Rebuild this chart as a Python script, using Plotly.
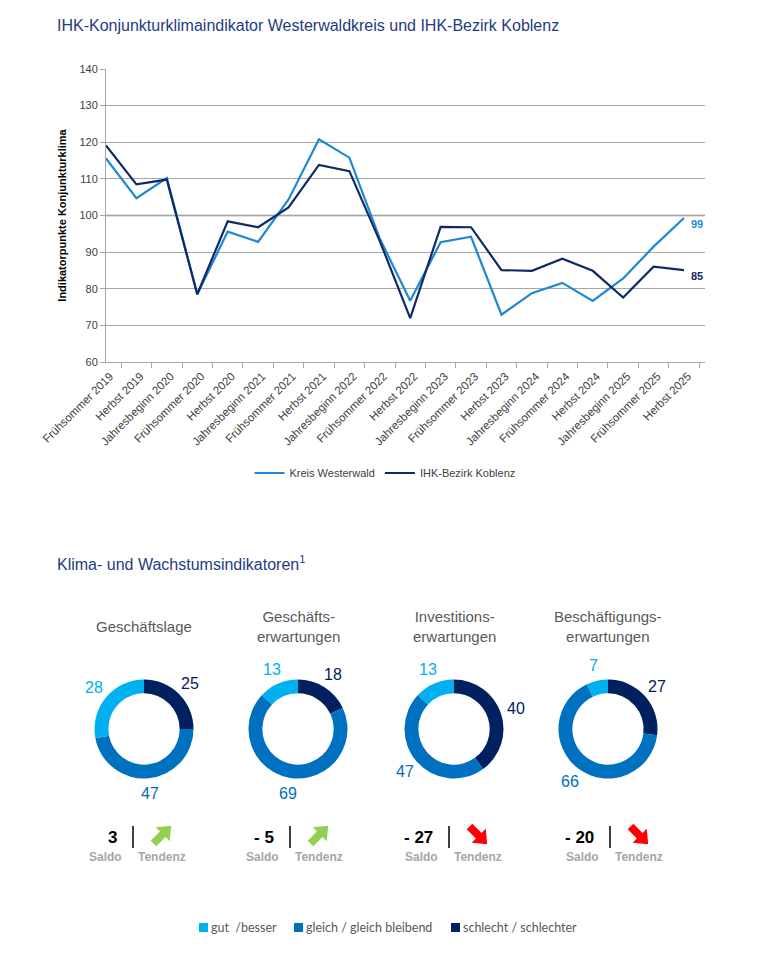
import math
import plotly.graph_objects as go

# ---------------- data ----------------
categories = [
    "Frühsommer 2019", "Herbst 2019", "Jahresbeginn 2020", "Frühsommer 2020",
    "Herbst 2020", "Jahresbeginn 2021", "Frühsommer 2021", "Herbst 2021",
    "Jahresbeginn 2022", "Frühsommer 2022", "Herbst 2022", "Jahresbeginn 2023",
    "Frühsommer 2023", "Herbst 2023", "Jahresbeginn 2024", "Frühsommer 2024",
    "Herbst 2024", "Jahresbeginn 2025", "Frühsommer 2025", "Herbst 2025",
]
westerwald = [115.6, 104.7, 110.2, 78.5, 95.6, 92.8, 104.4, 120.8, 115.8, 93.7,
              76.7, 92.7, 94.2, 72.9, 78.8, 81.6, 76.7, 82.8, 91.5, 99.3]
koblenz = [119.1, 108.5, 109.8, 78.5, 98.4, 96.8, 102.2, 113.8, 112.1, 93.0,
           72.0, 96.9, 96.8, 85.1, 84.9, 88.2, 84.9, 77.6, 86.0, 85.1]
series_names = ["Kreis Westerwald", "IHK-Bezirk Koblenz"]

indicator_titles = ["Geschäftslage", "Geschäfts-<br>erwartungen",
                    "Investitions-<br>erwartungen", "Beschäftigungs-<br>erwartungen"]
slice_labels = ["gut\u00a0 /besser", "gleich / gleich bleibend", "schlecht / schlechter"]
gut = [28, 13, 13, 7]
gleich = [47, 69, 47, 66]
schlecht = [25, 18, 40, 27]
tendenz = ["up", "up", "down", "down"]

# ---------------- style ----------------
OFF = 8                     # page body margin of the browser
W, H = 773 - OFF, 957 - OFF
FONT = "Liberation Sans, Arial, sans-serif"
C_LIGHT_LINE = "#1E88D2"
C_DARK_LINE = "#0F2A66"
C_TITLE = "#1F3C7E"
SLICE_COLORS = ["#00B0F0", "#0070C0", "#002060"]   # gut, gleich, schlecht
GRID = "#A6A6A6"


def px(x):
    return (x - OFF) / W


def py(y):
    return 1 - (y - OFF) / H


fig = go.Figure()

# ---------------- line chart ----------------
for name, vals, col in [(series_names[0], westerwald, C_LIGHT_LINE),
                        (series_names[1], koblenz, C_DARK_LINE)]:
    fig.add_trace(go.Scatter(
        x=categories, y=vals, name=name, mode="lines",
        line=dict(color=col, width=2.2), xaxis="x", yaxis="y",
        legend="legend",
    ))
    fig.add_annotation(
        x=categories[-1], y=vals[-1], xref="x", yref="y",
        text=f"<b>{round(vals[-1])}</b>", showarrow=False,
        xanchor="left", xshift=5, yshift=-6,
        font=dict(family=FONT, size=11, color=col),
    )

# darker reference line at 100
fig.add_shape(type="line", xref="x domain", yref="y", x0=0, x1=1, y0=100, y1=100,
              line=dict(color="#7F7F7F", width=1.3), layer="below")

# ---------------- donuts ----------------
centers_x = [144, 298, 454, 608]
cy = 729
R = 49.5
label_r = 65
sep_x = [133, 290, 449, 610]

for i in range(4):
    cx = centers_x[i]
    # clockwise from 12 o'clock: schlecht, gleich, gut
    vals = [schlecht[i], gleich[i], gut[i]]
    cols = [SLICE_COLORS[2], SLICE_COLORS[1], SLICE_COLORS[0]]
    labs = [slice_labels[2], slice_labels[1], slice_labels[0]]
    fig.add_trace(go.Pie(
        values=vals, labels=labs, sort=False, direction="clockwise",
        rotation=0, hole=0.72, textinfo="none", hoverinfo="label+value",
        marker=dict(colors=cols, line=dict(width=0)),
        domain=dict(x=[px(cx - R), px(cx + R)], y=[py(cy + R), py(cy - R)]),
        showlegend=False,
    ))
    # slice value labels around the ring
    total = sum(vals)
    cum = 0
    for v, col in zip(vals, cols):
        mid = (cum + v / 2) / total * 2 * math.pi
        cum += v
        lx = cx + math.sin(mid) * label_r
        ly = cy - math.cos(mid) * label_r
        fig.add_annotation(x=px(lx), y=py(ly), xref="paper", yref="paper",
                           text=str(v), showarrow=False,
                           xanchor="center", yanchor="middle",
                           font=dict(family=FONT, size=16, color=col))
    # indicator title
    fig.add_annotation(x=px(cx), y=py(626), xref="paper", yref="paper",
                       text=indicator_titles[i], showarrow=False,
                       xanchor="center", yanchor="middle",
                       font=dict(family=FONT, size=15, color="#595959"))
    # saldo
    saldo = gut[i] - schlecht[i]
    stext = f"- {abs(saldo)}" if saldo < 0 else str(saldo)
    sx = sep_x[i]
    fig.add_annotation(x=px(sx - 14), y=py(837), xref="paper", yref="paper",
                       text=f"<b>{stext}</b>", showarrow=False,
                       xanchor="right", yanchor="middle",
                       font=dict(family=FONT, size=17, color="#000000"))
    fig.add_shape(type="line", xref="paper", yref="paper",
                  x0=px(sx), x1=px(sx), y0=py(826), y1=py(848),
                  line=dict(color="#000000", width=1.5))
    fig.add_annotation(x=px(sx - 28), y=py(857), xref="paper", yref="paper",
                       text="<b>Saldo</b>", showarrow=False,
                       xanchor="center", yanchor="middle",
                       font=dict(family=FONT, size=12, color="#A6A6A6"))
    fig.add_annotation(x=px(sx + 29), y=py(857), xref="paper", yref="paper",
                       text="<b>Tendenz</b>", showarrow=False,
                       xanchor="center", yanchor="middle",
                       font=dict(family=FONT, size=12, color="#A6A6A6"))
    # tendency arrow
    ax, ay = sx + 29, 835
    if tendenz[i] == "up":
        d = (0.7071, -0.7071); n = (0.7071, 0.7071); col = "#92D050"
    else:
        d = (0.7071, 0.7071); n = (-0.7071, 0.7071); col = "#FF0000"
    local = [(-12, -4), (1, -4), (1, -10), (13, 0), (1, 10), (1, 4), (-12, 4)]
    pts = [(ax + u * d[0] + v * n[0], ay + u * d[1] + v * n[1]) for u, v in local]
    path = "M " + " L ".join(f"{px(x):.5f},{py(y):.5f}" for x, y in pts) + " Z"
    fig.add_shape(type="path", xref="paper", yref="paper", path=path,
                  fillcolor=col, line=dict(width=0))

# ---------------- bottom legend (manual) ----------------
leg_x = [199, 294, 451]
for lx, lab, col in zip(leg_x, slice_labels, SLICE_COLORS):
    fig.add_shape(type="rect", xref="paper", yref="paper",
                  x0=px(lx), x1=px(lx + 9), y0=py(932), y1=py(923),
                  fillcolor=col, line=dict(width=0))
    fig.add_annotation(x=px(lx + 10), y=py(927.5), xref="paper", yref="paper",
                       text=lab, showarrow=False, xanchor="left", yanchor="middle",
                       font=dict(family="Lato, Carlito, sans-serif", size=12.5, color="#595959"))

# ---------------- titles ----------------
fig.add_annotation(x=px(55), y=py(25), xref="paper", yref="paper",
                   xanchor="left", yanchor="middle",
                   text="IHK-Konjunkturklimaindikator Westerwaldkreis und IHK-Bezirk Koblenz",
                   showarrow=False, font=dict(family=FONT, size=16, color=C_TITLE))
fig.add_annotation(x=px(55), y=py(563), xref="paper", yref="paper",
                   xanchor="left", yanchor="middle",
                   text="Klima- und Wachstumsindikatoren<sup>1</sup>",
                   showarrow=False, font=dict(family=FONT, size=16, color=C_TITLE))

fig.update_layout(
    width=W, height=H, margin=dict(l=0, r=0, t=0, b=0, autoexpand=False),
    paper_bgcolor="white", plot_bgcolor="white",
    font=dict(family=FONT, color="#404040"),
    xaxis=dict(
        type="category", domain=[px(106), px(705)], anchor="y", automargin=False,
        tickangle=-45, tickfont=dict(size=11.5, color="#404040"),
        ticks="outside", tickson="boundaries", ticklen=5, tickcolor=GRID,
        ticklabelshift=4, ticklabelstandoff=2,
        showline=True, linecolor=GRID, linewidth=1, showgrid=False,
    ),
    yaxis=dict(
        domain=[py(362), py(69)], range=[60, 140], dtick=10, automargin=False,
        showgrid=True, gridcolor=GRID, gridwidth=1,
        showline=True, linecolor=GRID, linewidth=1,
        ticks="outside", ticklen=5, tickcolor=GRID,
        tickfont=dict(size=11, color="#404040"),
        title=dict(text="<b>Indikatorpunkte Konjunkturklima</b>",
                   font=dict(size=11, color="#000000"), standoff=10),
        zeroline=False,
    ),
    legend=dict(orientation="h", x=px(385), xanchor="center", y=py(473), yanchor="middle",
                font=dict(size=11, color="#404040"), itemwidth=30,
                bgcolor="rgba(0,0,0,0)"),
    showlegend=True,
)

fig.write_html("out.html")
